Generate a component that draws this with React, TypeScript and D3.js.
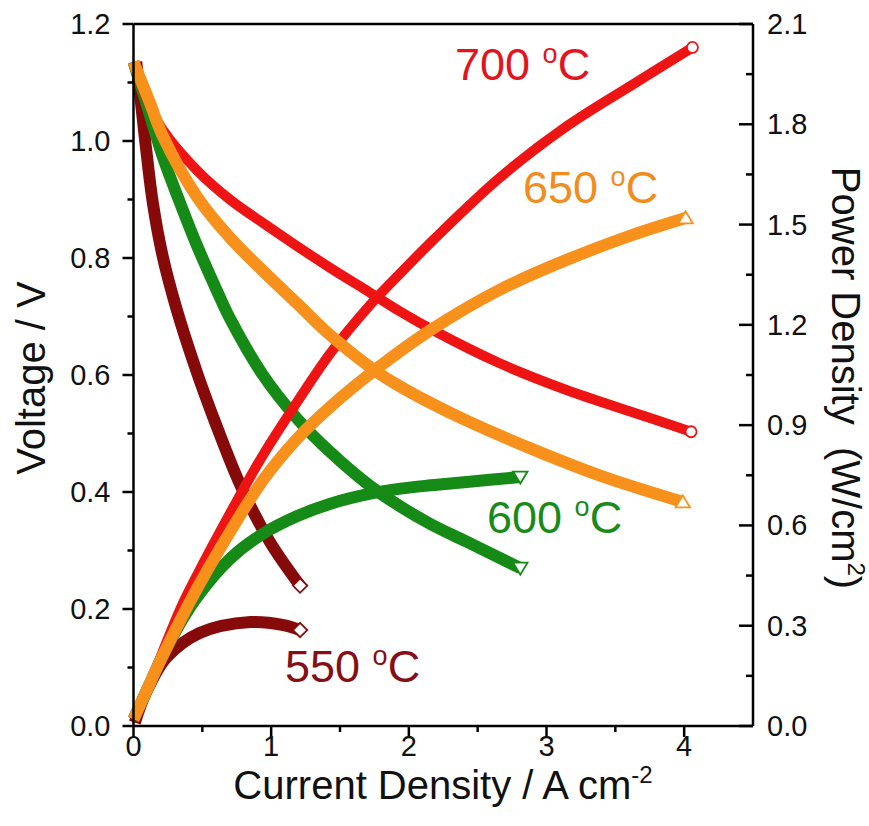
import React from "react";
import * as d3 from "d3";

// ---- Data ----
// Current density (A/cm2), voltage (V) and power density (W/cm2)
const i700V = [0, 0.1, 0.21, 0.46, 0.7, 0.94, 1.19, 1.43, 1.67, 1.94, 2.18, 2.66, 3.15, 3.63, 4.05];
const v700 = [1.135, 1.07, 1.02, 0.95, 0.9, 0.86, 0.82, 0.783, 0.748, 0.708, 0.676, 0.62, 0.574, 0.536, 0.503];
const i700P = [0, 0.1, 0.2, 0.34, 0.46, 0.7, 0.94, 1.19, 1.43, 1.72, 1.94, 2.18, 2.66, 3.15, 3.63, 4.06];
const p700 = [0.02, 0.11, 0.21, 0.35, 0.45, 0.635, 0.81, 0.97, 1.115, 1.26, 1.355, 1.455, 1.64, 1.795, 1.92, 2.03];

const i650V = [0, 0.12, 0.21, 0.46, 0.7, 0.94, 1.19, 1.43, 1.77, 1.94, 2.16, 2.42, 2.91, 3.39, 3.99];
const v650 = [1.135, 1.065, 1.01, 0.905, 0.835, 0.778, 0.722, 0.668, 0.605, 0.58, 0.552, 0.522, 0.472, 0.428, 0.383];
const i650P = [0, 0.1, 0.2, 0.46, 0.7, 0.94, 1.19, 1.43, 1.77, 2.16, 2.66, 3.15, 3.63, 4.01];
const p650 = [0.02, 0.11, 0.2, 0.41, 0.58, 0.735, 0.86, 0.955, 1.07, 1.185, 1.305, 1.395, 1.47, 1.52];

const i600V = [0, 0.1, 0.21, 0.34, 0.46, 0.61, 0.7, 0.94, 1.19, 1.43, 1.72, 1.94, 2.16, 2.42, 2.81];
const v600 = [1.135, 1.06, 0.975, 0.893, 0.822, 0.742, 0.697, 0.6, 0.525, 0.468, 0.41, 0.375, 0.345, 0.315, 0.27];
const i600P = [0, 0.1, 0.2, 0.35, 0.46, 0.7, 0.94, 1.19, 1.43, 1.72, 1.94, 2.16, 2.42, 2.81];
const p600 = [0.02, 0.11, 0.2, 0.315, 0.385, 0.5, 0.575, 0.628, 0.665, 0.695, 0.71, 0.72, 0.73, 0.745];

const i550V = [0.02, 0.05, 0.09, 0.14, 0.21, 0.31, 0.46, 0.6, 0.78, 0.99, 1.21];
const v550 = [1.135, 1.075, 0.99, 0.895, 0.805, 0.715, 0.605, 0.515, 0.41, 0.315, 0.24];
const i550P = [0.01, 0.06, 0.12, 0.24, 0.48, 0.85, 1.09, 1.21];
const p550 = [0.01, 0.07, 0.125, 0.205, 0.278, 0.311, 0.302, 0.287];

const seriesNames = ["550", "600", "700", "650"];
const seriesColors = ["#870a0a", "#168a16", "#ee1414", "#f8901c"];
const seriesMarkers = ["diamond", "triangleDown", "circle", "triangle"];

const xTicks = [0, 1, 2, 3, 4];
const xMinor = [0.5, 1.5, 2.5, 3.5];
const vTicks = [0, 0.2, 0.4, 0.6, 0.8, 1.0, 1.2];
const vMinor = [0.1, 0.3, 0.5, 0.7, 0.9, 1.1];
const pTicks = [0, 0.3, 0.6, 0.9, 1.2, 1.5, 1.8, 2.1];
const pMinor = [0.15, 0.45, 0.75, 1.05, 1.35, 1.65, 1.95];

const W = 869;
const H = 826;
const L = 133.5, R = 753, T = 24, B = 726;
const FONT = "'Liberation Sans', Arial, Helvetica, sans-serif";

export default function App() {
  const x = d3.scaleLinear().domain([0, 4.5]).range([L, R]);
  const yV = d3.scaleLinear().domain([0, 1.2]).range([B, T]);
  const yP = d3.scaleLinear().domain([0, 2.1]).range([B, T]);

  const curves = {
    "550": { V: [i550V, v550], P: [i550P, p550], w: 12 },
    "600": { V: [i600V, v600], P: [i600P, p600], w: 12 },
    "700": { V: [i700V, v700], P: [i700P, p700], w: 10 },
    "650": { V: [i650V, v650], P: [i650P, p650], w: 12 },
  } as Record<string, any>;

  const lineV = d3.line<[number, number]>().x(d => x(d[0])).y(d => yV(d[1])).curve(d3.curveCatmullRom.alpha(0.5));
  const lineP = d3.line<[number, number]>().x(d => x(d[0])).y(d => yP(d[1])).curve(d3.curveCatmullRom.alpha(0.5));

  const symbolPath = (kind: string) => {
    const s = 12;
    if (kind === "circle") return d3.symbol(d3.symbolCircle, 95)();
    if (kind === "triangle") return `M0,${-s * 0.55}L${s * 0.6},${s * 0.45}L${-s * 0.6},${s * 0.45}Z`;
    if (kind === "triangleDown") return `M0,${s * 0.55}L${s * 0.6},${-s * 0.45}L${-s * 0.6},${-s * 0.45}Z`;
    return `M0,${-s * 0.6}L${s * 0.6},0L0,${s * 0.6}L${-s * 0.6},0Z`;
  };

  const labels = [
    { t: "700 ", x: 455, y: 80, c: "#e3141e" },
    { t: "650 ", x: 523, y: 203, c: "#f28c1e" },
    { t: "600 ", x: 487, y: 533, c: "#1a8a1a" },
    { t: "550 ", x: 285, y: 682, c: "#850f14" },
  ];

  const fmt1 = d3.format(".1f");

  return (
    <svg width={W} height={H} style={{ position: "absolute", left: 0, top: 0, display: "block", background: "#fff" }} fontFamily={FONT}>
      <rect x={0} y={0} width={W} height={H} fill="#fff" />
      {/* curves */}
      {seriesNames.map((name, k) => {
        const c = curves[name];
        const vPts = c.V[0].map((d: number, i: number) => [d, c.V[1][i]] as [number, number]);
        const pPts = c.P[0].map((d: number, i: number) => [d, c.P[1][i]] as [number, number]);
        return (
          <g key={name}>
            <path d={lineV(vPts) || ""} fill="none" stroke={seriesColors[k]} strokeWidth={c.w} />
            <path d={lineP(pPts) || ""} fill="none" stroke={seriesColors[k]} strokeWidth={c.w} />
          </g>
        );
      })}
      {/* end markers */}
      {seriesNames.map((name, k) => {
        const c = curves[name];
        const vl = c.V[0].length - 1;
        const pl = c.P[0].length - 1;
        const pts = [
          [x(c.V[0][vl]), yV(c.V[1][vl])],
          [x(c.P[0][pl]), yP(c.P[1][pl])],
        ];
        return pts.map((p, j) => (
          <path key={name + j} d={symbolPath(seriesMarkers[k]) || ""} transform={`translate(${p[0]},${p[1]})`}
            fill="#fff" stroke={seriesColors[k]} strokeWidth={1.8} />
        ));
      })}

      {/* frame & axes */}
      <g stroke="#000" strokeWidth={2.5} fill="none">
        <line x1={L} y1={T} x2={R} y2={T} />
        <line x1={L} y1={T} x2={L} y2={B} />
        <line x1={R} y1={T} x2={R} y2={B} />
        <line x1={L} y1={B} x2={R} y2={B} />
        {vTicks.map(v => <line key={"lv" + v} x1={L - 11} x2={L} y1={yV(v)} y2={yV(v)} />)}
        {vMinor.map(v => <line key={"lm" + v} x1={L - 6} x2={L} y1={yV(v)} y2={yV(v)} />)}
        {xTicks.map(v => <line key={"bx" + v} x1={x(v)} x2={x(v)} y1={B} y2={B + 11} />)}
        {xMinor.map(v => <line key={"bm" + v} x1={x(v)} x2={x(v)} y1={B} y2={B + 6} />)}
        {pTicks.map(v => <line key={"rp" + v} x1={R - 14} x2={R} y1={yP(v)} y2={yP(v)} />)}
        {pMinor.map(v => <line key={"rm" + v} x1={R - 7} x2={R} y1={yP(v)} y2={yP(v)} />)}
      </g>

      {/* tick labels */}
      <g fontSize={29} fill="#111">
        {vTicks.map(v => (
          <text key={"tv" + v} x={L - 23} y={yV(v)} textAnchor="end" dominantBaseline="central">{fmt1(v)}</text>
        ))}
        {xTicks.map(v => (
          <text key={"tx" + v} x={x(v)} y={B + 30} textAnchor="middle">{v}</text>
        ))}
        {pTicks.map(v => (
          <text key={"tp" + v} x={R + 14} y={yP(v)} textAnchor="start" dominantBaseline="central">{fmt1(v)}</text>
        ))}
      </g>

      {/* axis titles */}
      <text x={443} y={799} textAnchor="middle" fontSize={40} fill="#111">
        Current Density / A cm<tspan fontSize={24} dy={-16}>-2</tspan>
      </text>
      <text transform={`translate(45,378) rotate(-90)`} textAnchor="middle" fontSize={40} fill="#111">
        Voltage / V
      </text>
      <text transform={`translate(832,378) rotate(90)`} textAnchor="middle" fontSize={40} fill="#111" style={{ whiteSpace: "pre" }}>
        {"Power Density  (W/cm"}<tspan fontSize={24} dy={-16}>2</tspan><tspan dy={16}>)</tspan>
      </text>

      {/* series labels */}
      {labels.map(l => (
        <text key={l.t} x={l.x} y={l.y} fontSize={45} fill={l.c}>
          {l.t}<tspan fontSize={27} dy={-17}>o</tspan><tspan dy={17}>C</tspan>
        </text>
      ))}
    </svg>
  );
}
